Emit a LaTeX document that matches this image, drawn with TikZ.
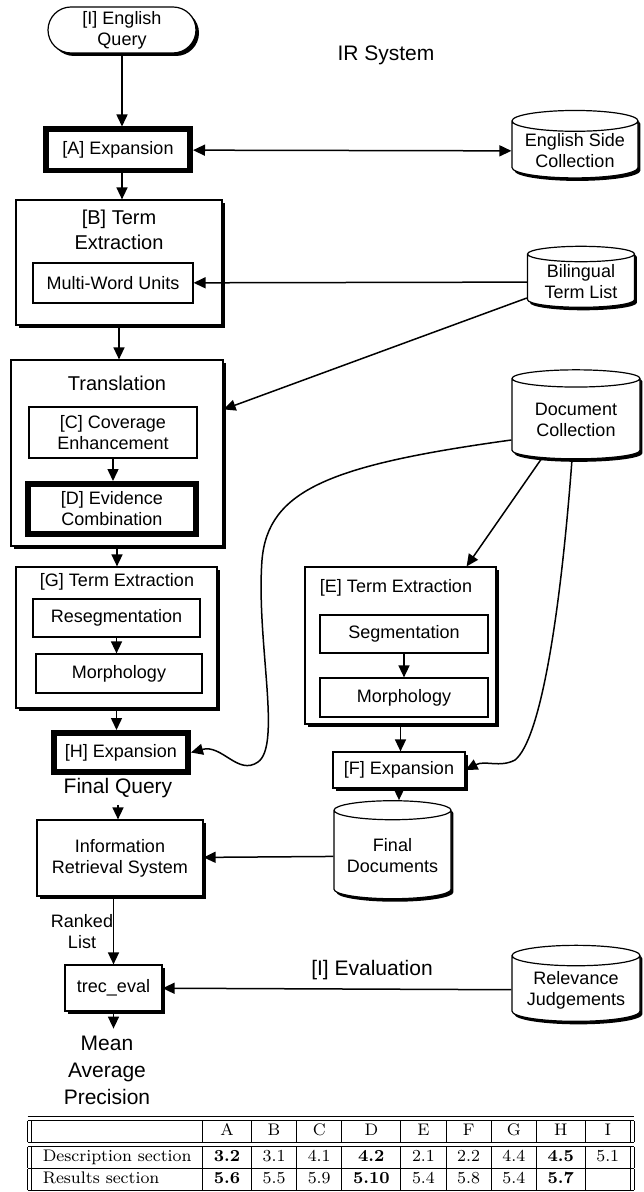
\documentclass[tikz,border=0pt]{standalone}
\usepackage{fontspec}
\newfontfamily\hv{Liberation Sans}
\usetikzlibrary{arrows.meta,positioning,shapes.geometric,shadows}
\tikzset{
  procbox/.style={draw,fill=white,line width=0.6pt,inner sep=1pt,align=center,
    drop shadow={shadow xshift=1.5pt,shadow yshift=-1.5pt,fill=black,opacity=1}},
  subbox/.style={draw,fill=white,line width=0.6pt,inner sep=1pt,align=center},
  keybox/.style={draw,fill=white,line width=2.8pt,inner sep=1pt,align=center},
  store/.style={cylinder,shape border rotate=90,aspect=0.2,draw,fill=white,line width=0.6pt,
    inner sep=1pt,align=center,
    drop shadow={shadow xshift=1.2pt,shadow yshift=-1.5pt,fill=black,opacity=1}},
  flow/.style={-{Triangle[length=6pt,width=5.5pt]},line width=0.75pt},
  boxfont/.style={font=\hv\fontsize{9}{10.5}\selectfont},
  headfont/.style={font=\hv\fontsize{10}{12.5}\selectfont,align=center},
  bigfont/.style={font=\hv\fontsize{10.5}{13.5}\selectfont,align=center}
}

\begin{document}
\begin{tikzpicture}[x=0.5pt,y=-0.5pt]
  \useasboundingbox (0,0) rectangle (643,1192);

  % query side
  \node[procbox,boxfont,rounded corners=11.5pt,minimum width=74pt,minimum height=23pt] (query) at (122,30) {[I] English\\Query};
  \node[bigfont] (irsys) at (386,55) {IR System};
  \node[keybox,boxfont,minimum width=72.2pt,minimum height=20.7pt] (expA) at (118,150) {[A] Expansion};
  \node[store,boxfont,minimum width=63pt,minimum height=31pt] (engcol) at (575,151) {English Side\\Collection};

  \node[procbox,minimum width=103pt,minimum height=62.5pt] (termB) at (119,262.5) {};
  \node[headfont] (termBt) at (119,230) {[B] Term\\Extraction};
  \node[subbox,boxfont,minimum width=80pt,minimum height=20pt] (mwu) at (113,283) {Multi-Word Units};
  \node[store,boxfont,minimum width=53.5pt,minimum height=30.5pt] (bil) at (581,282) {Bilingual\\Term List};

  \node[procbox,minimum width=106pt,minimum height=93pt] (trans) at (117,453) {};
  \node[headfont] (transt) at (117,383) {Translation};
  \node[subbox,boxfont,minimum width=84pt,minimum height=25.5pt] (covC) at (113,432.5) {[C] Coverage\\Enhancement};
  \node[keybox,boxfont,minimum width=84.2pt,minimum height=25.2pt] (evD) at (112,509) {[D] Evidence\\Combination};

  \node[procbox,minimum width=100.5pt,minimum height=70.5pt] (termG) at (116.5,637.5) {};
  \node[boxfont] (termGt) at (117,582) {[G] Term Extraction};
  \node[subbox,boxfont,minimum width=83.5pt,minimum height=19pt] (reseg) at (116.5,618) {Resegmentation};
  \node[subbox,boxfont,minimum width=83pt,minimum height=19.5pt] (morphG) at (119,673.5) {Morphology};
  \node[keybox,boxfont,minimum width=67.2pt,minimum height=19.7pt] (expH) at (121,752.5) {[H] Expansion};
  \node[bigfont] (fq) at (118,788) {Final Query};

  % document side
  \node[store,boxfont,minimum width=64pt,minimum height=44.5pt] (doc) at (576,420) {Document\\Collection};
  \node[procbox,minimum width=95.5pt,minimum height=78.5pt] (termE) at (400.5,645.5) {};
  \node[boxfont] (termEt) at (396,588) {[E] Term Extraction};
  \node[subbox,boxfont,minimum width=84pt,minimum height=19pt] (seg) at (404,634) {Segmentation};
  \node[subbox,boxfont,minimum width=84pt,minimum height=19.5pt] (morphE) at (404,697.5) {Morphology};
  \node[procbox,boxfont,minimum width=66pt,minimum height=18pt] (expF) at (399,770) {[F] Expansion};
  \node[store,boxfont,minimum width=58.5pt,minimum height=49pt] (fdocs) at (392.5,856) {Final\\Documents};

  % retrieval and evaluation
  \node[procbox,boxfont,minimum width=83pt,minimum height=38pt] (irs) at (120,858) {Information\\Retrieval System};
  \node[boxfont,align=center] (ranked) at (82,932) {Ranked\\List};
  \node[bigfont] (evalI) at (372,970) {[I] Evaluation};
  \node[procbox,boxfont,minimum width=48.5pt,minimum height=23pt] (trec) at (113.5,988) {trec\_eval};
  \node[store,boxfont,minimum width=64pt,minimum height=38pt] (rel) at (576,990) {Relevance\\Judgements};
  \node[bigfont] (map) at (107,1070) {Mean\\Average\\Precision};

  \draw[flow] (query) -- (query |- expA.north);
  \draw[flow,{Triangle[length=6pt,width=5.5pt]}-{Triangle[length=6pt,width=5.5pt]}] (expA) -- (engcol);
  \draw[flow] (expA.south -| query) -- (query |- termB.north);
  \draw[flow] (bil) -- (mwu);
  \draw[flow] (termB.south) -- (termB.south |- trans.north);
  \draw[flow] ([yshift=-8pt]bil.west) -- ([yshift=-25pt]trans.north east);
  \draw[flow] (covC.south) -- (covC.south |- evD.north);
  \draw[flow] (trans.south) -- (trans.south |- termG.north);
  \draw[flow] (reseg.south) -- (reseg.south |- morphG.north);
  \draw[flow] (termG.south) -- (termG.south |- expH.north);
  \draw[flow] ([yshift=-10pt]doc.west) .. controls (330,465) and (268,490) .. (262,560)
    .. controls (256,640) and (282,745) .. (258,762)
    .. controls (238,776) and (222,744) .. (expH.east);
  \draw[flow] ([xshift=-17.5pt]doc.south) -- ([xshift=-15pt]termE.north east);
  \draw[flow] (seg.south) -- (seg.south |- morphE.north);
  \draw[flow] (termE.south) -- (termE.south |- expF.north);
  \draw[flow] ([xshift=-2pt]doc.south) .. controls (560,620) and (540,740) .. (515,760)
    .. controls (500,768) and (485,760) .. (expF.east);
  \draw[flow] (expF.south) -- (expF.south |- fdocs.north);
  \draw[flow] (fdocs) -- (irs);
  \draw[flow] (fq) -- (fq |- irs.north);
  \draw[flow] (irs.south -| trec) -- (trec.north);
  \draw[flow] (rel) -- (trec);
  \draw[flow] (trec.south) -- (trec.south |- map.north);

  % section table
  \node[font=\fontsize{8.4}{10.5}\selectfont] (tab) at (331,1153.5) {%
    \setlength\tabcolsep{5.6pt}%
    \begin{tabular}{||l|c|c|c|c|c|c|c|c|c||}
      \hline\hline
      & A & B & C & D & E & F & G & H & I \\
      \hline\hline
      Description section & \textbf{3.2} & 3.1 & 4.1 & \textbf{4.2} & 2.1 & 2.2 & 4.4 & \textbf{4.5} & 5.1 \\
      \hline
      Results section & \textbf{5.6} & 5.5 & 5.9 & \textbf{5.10} & 5.4 & 5.8 & 5.4 & \textbf{5.7} & \\
      \hline
    \end{tabular}};
\end{tikzpicture}
\end{document}
